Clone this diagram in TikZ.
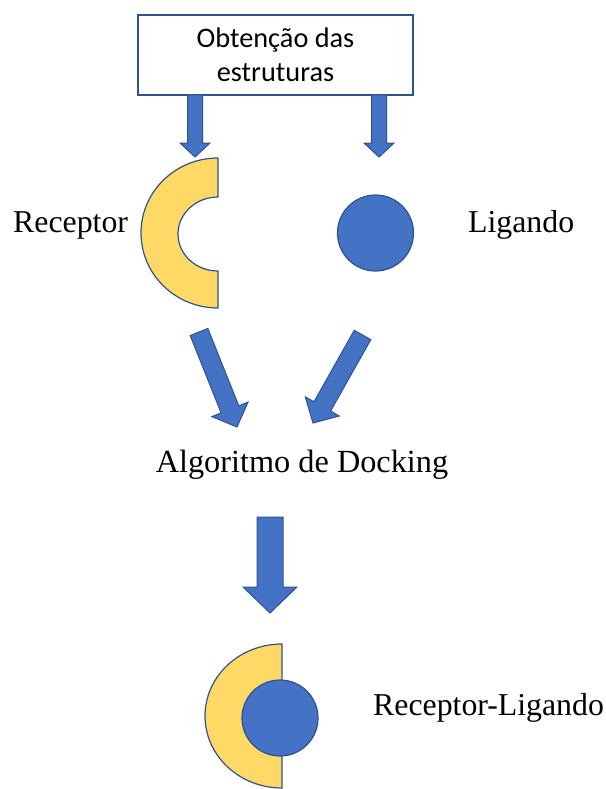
\documentclass[tikz,border=0pt]{standalone}
\usepackage{fontspec}
\setmainfont{Liberation Serif}
\newfontfamily\calfont{Carlito}
\usetikzlibrary{calc}
\definecolor{arrowblue}{HTML}{4472C4}
\definecolor{edgeblue}{HTML}{2F528F}
\definecolor{ringyellow}{HTML}{FFD966}
\tikzset{
  blockarrow/.style={fill=arrowblue, draw=edgeblue, line width=1pt, line join=miter},
  shapeline/.style={draw=edgeblue, line width=1.2pt},
  lbl/.style={font=\fontsize{31.8}{36}\selectfont, inner sep=0pt, anchor=base west},
}
% #1 start, #2 tip, #3 shaft half width, #4 head half width, #5 head length
\newcommand\myblockarrow[5]{%
  \path[blockarrow]
    ($(#1)!#3!90:(#2)$) --
    ($($(#2)!#5!(#1)$)!#3!-90:(#1)$) --
    ($($(#2)!#5!(#1)$)!#4!-90:(#1)$) --
    (#2) --
    ($($(#2)!#5!(#1)$)!#4!90:(#1)$) --
    ($($(#2)!#5!(#1)$)!#3!90:(#1)$) --
    ($(#1)!#3!-90:(#2)$) -- cycle;%
}
\begin{document}
\begin{tikzpicture}[x=1pt,y=-1pt]
\useasboundingbox (0,0) rectangle (605,789);

% top box
\node[draw=edgeblue, line width=1.2pt, minimum width=275pt, minimum height=80pt,
      align=center, inner sep=0pt,
      font=\calfont\fontsize{28.3}{34}\selectfont] (box) at (275.5,55)
      {Obtenção das\\estruturas};

% coordinates for the arrows
\coordinate (a1s) at (195,95);   \coordinate (a1t) at (195,157);
\coordinate (a2s) at (379,95);   \coordinate (a2t) at (379,157);
\coordinate (a3s) at (199,332);  \coordinate (a3t) at (237,427);
\coordinate (a4s) at (362.5,335);\coordinate (a4t) at (313,423);
\coordinate (a5s) at (270,517);  \coordinate (a5t) at (270,613);

\myblockarrow{a1s}{a1t}{7.5pt}{15pt}{14pt}
\myblockarrow{a2s}{a2t}{7.5pt}{15pt}{14pt}
\myblockarrow{a3s}{a3t}{9.5pt}{19.5pt}{19pt}
\myblockarrow{a4s}{a4t}{9.5pt}{19.5pt}{19pt}
\myblockarrow{a5s}{a5t}{13pt}{27pt}{26pt}

% receptor (C shape)
\path[shapeline, fill=ringyellow]
  (218,158) arc[start angle=270, end angle=90, x radius=77, y radius=75]
  -- (218,271) arc[start angle=90, end angle=270, x radius=40, y radius=37]
  -- cycle;

% ligand
\path[shapeline, fill=arrowblue] (375.5,233) circle[radius=38];

% labels
\node[lbl] (rec) at (13,232) {Receptor};
\node[lbl] (lig) at (468,232) {Ligando};
\node[lbl, anchor=base, font=\fontsize{32.3}{36}\selectfont] (alg) at (302,472) {Algoritmo de Docking};
\node[lbl] (rl) at (373,715) {Receptor-Ligando};

% complex
\path[shapeline, fill=ringyellow]
  (282,644) arc[start angle=270, end angle=90, x radius=77, y radius=72]
  -- cycle;
\path[shapeline, fill=arrowblue] (280,718) circle[radius=38];
\end{tikzpicture}
\end{document}
